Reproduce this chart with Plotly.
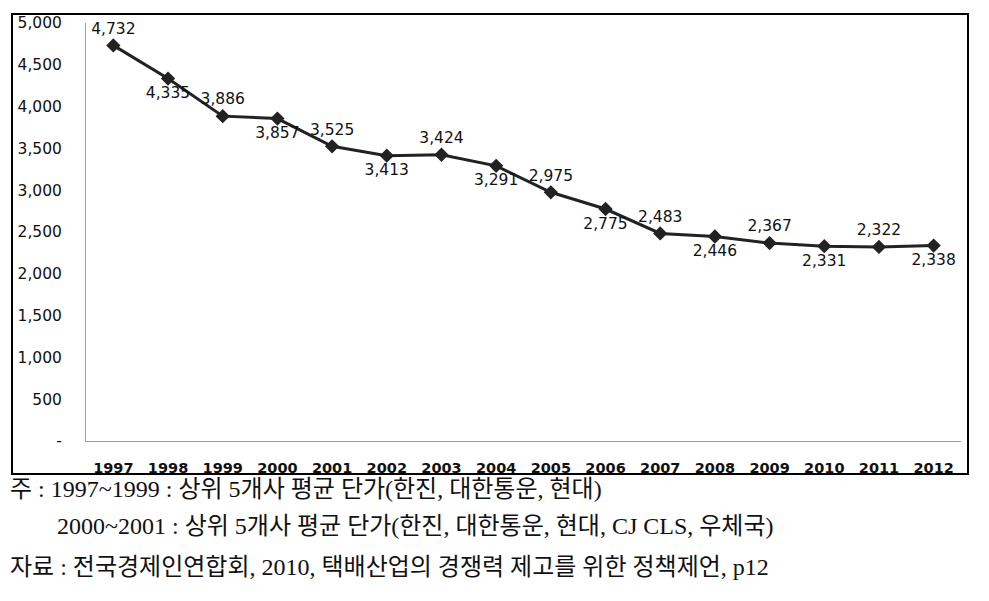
import plotly.graph_objects as go

years = ["1997", "1998", "1999", "2000", "2001", "2002", "2003", "2004",
         "2005", "2006", "2007", "2008", "2009", "2010", "2011", "2012"]
prices = [4732, 4335, 3886, 3857, 3525, 3413, 3424, 3291,
          2975, 2775, 2483, 2446, 2367, 2331, 2322, 2338]
y_tick_vals = [0, 500, 1000, 1500, 2000, 2500, 3000, 3500, 4000, 4500, 5000]
y_tick_text = ["-", "500", "1,000", "1,500", "2,000", "2,500", "3,000",
               "3,500", "4,000", "4,500", "5,000"]
notes = [
    "주 : 1997~1999 : 상위 5개사 평균 단가(한진, 대한통운, 현대)",
    "2000~2001 : 상위 5개사 평균 단가(한진, 대한통운, 현대, CJ CLS, 우체국)",
    "자료 : 전국경제인연합회, 2010, 택배산업의 경쟁력 제고를 위한 정책제언, p12",
]

labels = [f"{v:,}" for v in prices]
positions = ["top center" if i % 2 == 0 else "bottom center" for i in range(len(prices))]

fig = go.Figure()
fig.add_trace(go.Scatter(
    x=years, y=prices, mode="lines+markers+text",
    line=dict(color="#222222", width=3),
    marker=dict(symbol="diamond", size=11, color="#222222"),
    text=labels, textposition=positions,
    textfont=dict(family="DejaVu Sans", size=15.5, color="#111111"),
    cliponaxis=False, showlegend=False,
))

# page body has an 8px margin; all pixel positions below are offset for that
OFF = 8
W, H = 989, 601
L = 86 - OFF
T = 23 - OFF
B = H - (441 - OFF)
R = W - (961 - OFF)
pw, ph = W - L - R, H - T - B

def px(xp):
    return (xp - OFF - L) / pw

def py(yp):
    return (H - B - (yp - OFF)) / ph

fig.update_layout(
    width=W, height=H,
    margin=dict(l=L, r=R, t=T, b=B, autoexpand=False),
    paper_bgcolor="white", plot_bgcolor="white",
    xaxis=dict(type="category", range=[-0.5, 15.5], showgrid=False,
               showline=True, linecolor="#a0a0a0", linewidth=1,
               ticks="", ticklabelstandoff=14, automargin=False,
               tickfont=dict(family="DejaVu Sans", size=14.5, color="#111111", weight="bold"),
               zeroline=False),
    yaxis=dict(range=[0, 5000], tickvals=y_tick_vals, ticktext=y_tick_text,
               showgrid=False, showline=True, linecolor="#a0a0a0", linewidth=1,
               ticks="", ticklabelstandoff=20, automargin=False,
               tickfont=dict(family="DejaVu Sans", size=15.5, color="#111111"),
               zeroline=False),
)

fig.add_shape(type="rect", xref="paper", yref="paper",
              x0=px(12), x1=px(968), y0=py(474), y1=py(14),
              line=dict(color="black", width=2), fillcolor="rgba(0,0,0,0)",
              layer="below")

note_pos = [(8, 489), (55, 526), (8, 567)]
for txt, (xp, yp) in zip(notes, note_pos):
    fig.add_annotation(text=txt, xref="paper", yref="paper",
                       x=px(xp), y=py(yp), xanchor="left", yanchor="middle",
                       showarrow=False,
                       font=dict(family="Liberation Serif, Noto Sans CJK KR", size=24,
                                 color="#111111"))

fig.write_html("out.html")
